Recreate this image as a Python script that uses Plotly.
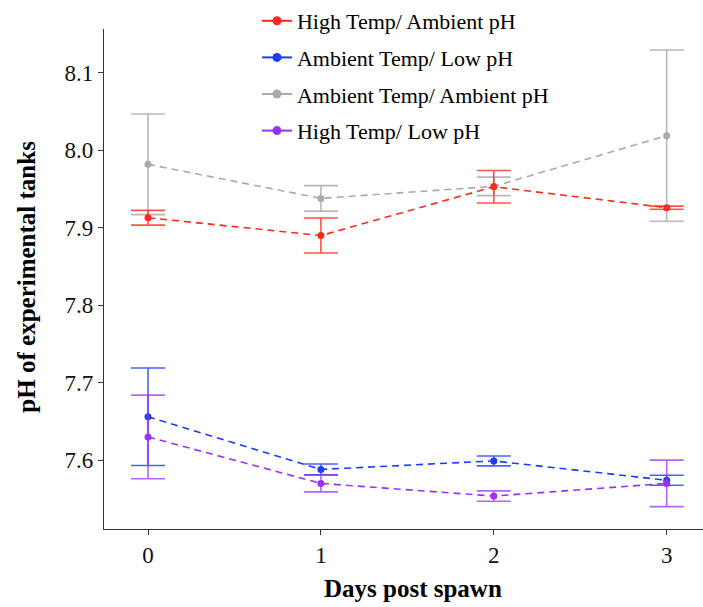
import plotly.graph_objects as go

days = [0, 1, 2, 3]
series_names = ["High Temp/ Ambient pH", "Ambient Temp/ Low pH",
                "Ambient Temp/ Ambient pH", "High Temp/ Low pH"]

ph_high_amb = [7.913, 7.890, 7.953, 7.926]
err_high_amb = [0.0095, 0.0226, 0.021, 0.002]

ph_amb_low = [7.656, 7.588, 7.599, 7.574]
err_amb_low = [0.063, 0.007, 0.0064, 0.0065]

ph_amb_amb = [7.982, 7.938, 7.9535, 8.019]
err_amb_amb = [0.065, 0.0165, 0.012, 0.1105]

ph_high_low = [7.630, 7.570, 7.5536, 7.570]
err_high_low = [0.054, 0.011, 0.0067, 0.030]

y_ticks = [7.6, 7.7, 7.8, 7.9, 8.0, 8.1]
y_tick_labels = ["7.6", "7.7", "7.8", "7.9", "8.0", "8.1"]

colors = ["#ff2a1a", "#1a3cff", "#aaaaaa", "#9b30ff"]
err_colors = ["rgba(255,42,26,0.8)", "rgba(26,60,255,0.8)",
              "rgba(170,170,170,0.85)", "rgba(155,48,255,0.75)"]

values = [ph_high_amb, ph_amb_low, ph_amb_amb, ph_high_low]
errors = [err_high_amb, err_amb_low, err_amb_amb, err_high_low]

fig = go.Figure()
draw_order = [2, 0, 1, 3]
for i in draw_order:
    fig.add_trace(go.Scatter(
        x=days, y=values[i], name=series_names[i],
        mode="lines+markers", showlegend=False,
        line=dict(color=colors[i], width=1.6, dash="7px,5px"),
        marker=dict(color=colors[i], size=7),
        error_y=dict(type="data", array=errors[i], visible=True,
                     color=err_colors[i], thickness=1.6, width=17),
    ))
# legend keys (solid line with dot)
for i in range(4):
    fig.add_trace(go.Scatter(
        x=[None], y=[None], name=series_names[i],
        mode="lines+markers", showlegend=True,
        legendgroup=f"g{i}", legendrank=i + 1,
        line=dict(color=colors[i], width=2),
        marker=dict(color=colors[i], size=9),
    ))

serif = "Liberation Serif, Times New Roman, serif"
fig.update_layout(
    width=703, height=607,
    margin=dict(l=104, r=0, t=28, b=78),
    plot_bgcolor="white", paper_bgcolor="white",
    font=dict(family=serif, color="black"),
    showlegend=True,
    legend=dict(x=0.2554, y=1.058, xanchor="left", yanchor="top",
                font=dict(family=serif, size=22, color="black"),
                bgcolor="rgba(0,0,0,0)",
                traceorder="grouped", tracegroupgap=5,
                itemwidth=30),
    xaxis=dict(range=[-0.2545, 3.21], tickvals=days,
               showgrid=False, zeroline=False,
               showline=True, linecolor="#333333", linewidth=1.3,
               ticks="outside", ticklen=5, tickcolor="#333333",
               tickfont=dict(family=serif, size=23, color="#111111")),
    yaxis=dict(range=[7.5111, 8.1567],
               tickvals=y_ticks, ticktext=y_tick_labels,
               showgrid=False, zeroline=False,
               showline=True, linecolor="#333333", linewidth=1.3,
               ticks="outside", ticklen=5, tickcolor="#333333",
               tickfont=dict(family=serif, size=23, color="#111111")),
    annotations=[
        dict(text="<b>Days post spawn</b>", xref="paper", yref="paper",
             x=0.516, y=-0.1198, xanchor="center", yanchor="middle",
             showarrow=False, font=dict(family=serif, size=25, color="black")),
        dict(text="<b>pH of experimental tanks</b>", xref="paper", yref="paper",
             x=-0.130, y=0.505, xanchor="center", yanchor="middle",
             textangle=-90, showarrow=False,
             font=dict(family=serif, size=25, color="black")),
    ],
)

fig.write_html("out.html")
